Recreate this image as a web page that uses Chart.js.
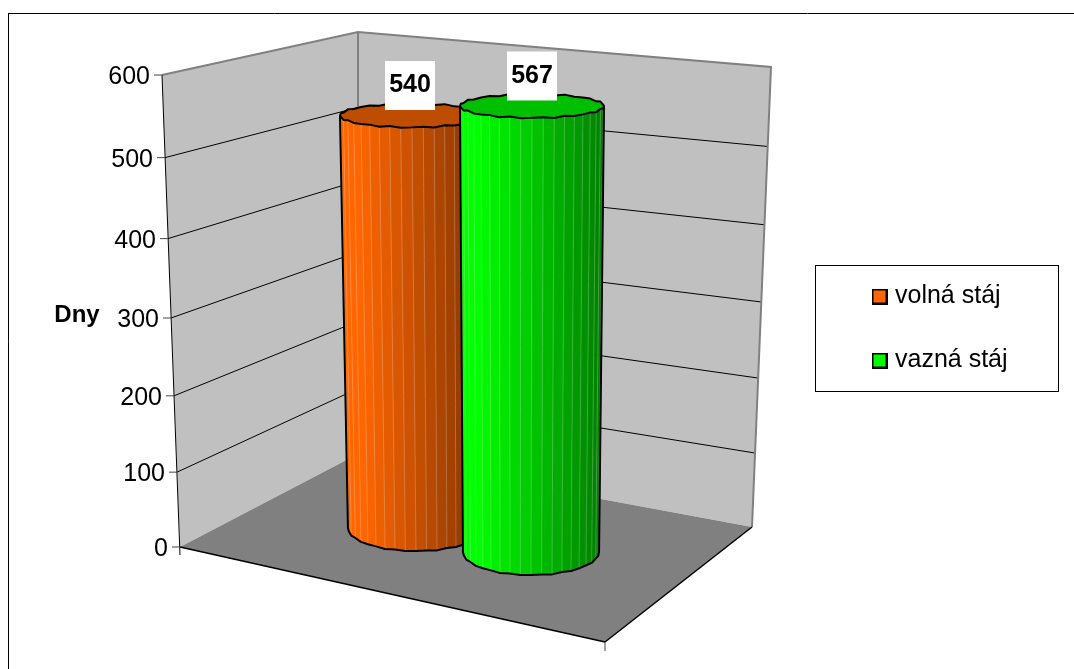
<!DOCTYPE html>
<html>
<head>
<meta charset="utf-8">
<title>Dny</title>
<style>
  html, body { margin: 0; padding: 0; background: #fff; }
  #wrap { width: 1074px; height: 669px; }
</style>
<script src="https://cdn.jsdelivr.net/npm/chart.js@4/dist/chart.umd.min.js"></script>
</head>
<body>
<div id="wrap"><canvas id="chart" width="1074" height="669"></canvas></div>
<script>
const categories = [''];
const seriesNames = ['volná stáj', 'vazná stáj'];
const volnaStaj = [540];
const vaznaStaj = [567];
const seriesColors = ['#ff6600', '#00ff00'];
const tickValues = [0, 100, 200, 300, 400, 500, 600];
const axisTitle = 'Dny';

const FONT = '"Liberation Sans", Arial, sans-serif';
const TEXT_SIZE = 25;

// corners of the box the columns stand in
const BACK_X = 358;
const FLOOR_FRONT = [605, 642];
const AXIS_X0 = 180;
const AXIS_SLANT = 18;   // how far the value axis leans left between 0 and 600
const RIGHT_X0 = 752;
const RIGHT_SLANT = 19;

// Linear scale seen in perspective: at0/at300/at600 are the pixels of those values
class PerspectiveScale extends Chart.LinearScale {
  static id = 'perspective';
  static defaults = Chart.LinearScale.defaults;

  getPixelForValue(value) {
    const { at0, at300, at600 } = this.options;
    const c = (at0 + at600 - 2 * at300) / (at300 - at600);
    const b = at600 * (1 + c) - at0;
    const t = value / 600;
    return (at0 + b * t) / (1 + c * t);
  }

  // tick labels follow the leaning axis
  _computeLabelItems(chartArea) {
    const items = super._computeLabelItems(chartArea);
    items.forEach((item, i) => {
      item.options.translation[0] -= AXIS_SLANT * this.ticks[i].value / 600;
      item.options.translation[1] += 2;
    });
    return items;
  }
}
Chart.register(PerspectiveScale);

function planeScale(at0, at300, at600) {
  return { type: 'perspective', axis: 'y', display: false, min: 0, max: 600, at0, at300, at600 };
}

function axisX(value) {
  return AXIS_X0 - AXIS_SLANT * value / 600;
}

function rightX(value) {
  return RIGHT_X0 + RIGHT_SLANT * value / 600;
}

function polygon(ctx, points) {
  ctx.beginPath();
  points.forEach(([x, y], i) => (i ? ctx.lineTo(x, y) : ctx.moveTo(x, y)));
}

function segment(ctx, x1, y1, x2, y2, color, width) {
  ctx.strokeStyle = color;
  ctx.lineWidth = width;
  ctx.beginPath();
  ctx.moveTo(x1, y1);
  ctx.lineTo(x2, y2);
  ctx.stroke();
}

function drawBox(chart) {
  const { ctx, scales } = chart;
  const front = scales.y;
  const back = scales.yCorner;
  const right = scales.yRight;
  const p = (scale, v) => scale.getPixelForValue(v);

  // chart frame, only the top and left side are ruled
  segment(ctx, 8.5, 669, 8.5, 13.5, '#000', 1);
  segment(ctx, 8, 13.5, 1074, 13.5, '#000', 1);

  // walls and floor
  ctx.fillStyle = '#c0c0c0';
  polygon(ctx, [[axisX(600), p(front, 600)], [BACK_X, p(back, 600)], [BACK_X, p(back, 0)], [axisX(0), p(front, 0)]]);
  ctx.fill();
  polygon(ctx, [[BACK_X, p(back, 600)], [rightX(600), p(right, 600)], [rightX(0), p(right, 0)], [BACK_X, p(back, 0)]]);
  ctx.fill();
  ctx.fillStyle = '#808080';
  polygon(ctx, [[axisX(0), p(front, 0)], [BACK_X, p(back, 0)], [rightX(0), p(right, 0)], FLOOR_FRONT]);
  ctx.fill();

  // gridlines run along both walls
  tickValues.slice(1, -1).forEach(v => {
    segment(ctx, axisX(v), p(front, v), BACK_X, p(back, v), '#000', 1);
    segment(ctx, BACK_X, p(back, v), rightX(v), p(right, v), '#000', 1);
  });

  // wall outline
  ctx.strokeStyle = '#808080';
  ctx.lineWidth = 2;
  polygon(ctx, [[axisX(600), p(front, 600)], [BACK_X, p(back, 600)], [rightX(600), p(right, 600)], [rightX(0), p(right, 0)]]);
  ctx.stroke();
  segment(ctx, BACK_X, p(back, 600), BACK_X, p(back, 0), '#808080', 2);

  // value axis with its tick marks
  segment(ctx, axisX(600), p(front, 600), axisX(0), p(front, 0) + 8, '#000', 1);
  tickValues.forEach(v => {
    segment(ctx, axisX(v) - 8, p(front, v), axisX(v), p(front, v), '#444', 1);
  });

  // front edges of the floor
  segment(ctx, axisX(0), p(front, 0), FLOOR_FRONT[0], FLOOR_FRONT[1], '#000', 1.5);
  segment(ctx, FLOOR_FRONT[0], FLOOR_FRONT[1], rightX(0), p(right, 0), '#000', 1.5);
  segment(ctx, FLOOR_FRONT[0], FLOOR_FRONT[1], FLOOR_FRONT[0], FLOOR_FRONT[1] + 9, '#444', 1);

  // axis title and legend frame
  ctx.fillStyle = '#000';
  ctx.font = `bold ${TEXT_SIZE - 1}px ${FONT}`;
  ctx.textAlign = 'center';
  ctx.textBaseline = 'middle';
  ctx.fillText(axisTitle, 77, 315);

  ctx.strokeStyle = '#000';
  ctx.lineWidth = 1;
  ctx.strokeRect(815.5, 265.5, 243, 126);
}

// facets get darker towards the right side of the column
function shade(rgb, f) {
  const k = f < 0.12 ? 1 : 1 - 0.5 * (f - 0.12) / 0.88;
  return `rgb(${rgb.map(c => Math.round(c * k)).join(',')})`;
}

const FACETS = 20;

function ring(cx, cy, rx, ry, wobble) {
  const points = [];
  for (let i = 0; i <= FACETS; i++) {
    const a = Math.PI - Math.PI * i / FACETS;
    points.push([cx + rx * Math.cos(a), cy + ry * Math.sin(a) + wobble * Math.sin(16 * a)]);
  }
  return points;
}

function drawCylinder(ctx, bar, look) {
  const rx = bar.width / 2;
  const top = ring(bar.x + look.lean, bar.y, rx, rx * 0.165, 0.8);
  const bottom = ring(bar.x - look.lean, bar.base, rx * 0.945, rx * 0.32, 0.5);

  for (let i = 0; i < FACETS; i++) {
    const f = (top[i][0] + top[i + 1][0] - 2 * top[0][0]) / 2 / (2 * rx);
    ctx.fillStyle = shade(look.rgb, f);
    ctx.strokeStyle = ctx.fillStyle;
    ctx.lineWidth = 0.5;
    polygon(ctx, [top[i], top[i + 1], bottom[i + 1], bottom[i]]);
    ctx.closePath();
    ctx.fill();
    ctx.stroke();
    if (i > 0) {
      segment(ctx, top[i][0], top[i][1], bottom[i][0], bottom[i][1], 'rgba(255,255,255,0.22)', 1);
    }
  }

  // lid
  const cx = bar.x + look.lean;
  const lidBack = ring(cx, bar.y, rx, -rx * 0.165, 0.8);
  ctx.fillStyle = `rgb(${look.rgb.map(c => Math.round(c * 0.75)).join(',')})`;
  polygon(ctx, top.concat(lidBack.slice().reverse()));
  ctx.closePath();
  ctx.fill();

  ctx.strokeStyle = '#000';
  ctx.lineWidth = 2;
  ctx.lineJoin = 'round';
  ctx.stroke();
  polygon(ctx, [top[0]].concat(bottom, [top[FACETS]]));
  ctx.stroke();
}

const cylinderLooks = [
  { rgb: [255, 102, 0], lean: -2, labelShift: -4 },
  { rgb: [0, 255, 0], lean: 0.5, labelShift: 0.5 }
];

// legend swatch as a small canvas so the text can sit close to it
function swatch(color) {
  const c = document.createElement('canvas');
  c.width = 16;
  c.height = 16;
  const g = c.getContext('2d');
  g.fillStyle = color;
  g.fillRect(1, 1, 14, 14);
  g.strokeStyle = '#000';
  g.lineWidth = 2;
  g.strokeRect(1, 1, 14, 14);
  return c;
}
const swatches = seriesColors.map(swatch);

const box3d = {
  id: 'box3d',
  afterLayout(chart) {
    // legend sits beside the box, not inside the chart area
    const legend = chart.legend;
    const pad = legend.options.labels.padding;
    const width = legend.right - legend.left;
    const height = legend.bottom - legend.top;
    legend.left = 876.5 - pad;
    legend.right = legend.left + width;
    legend.top = 328.5 - height / 2;
    legend.bottom = legend.top + height;
  },
  beforeDraw: drawBox,
  beforeDatasetDraw() {
    return false;
  },
  afterDatasetsDraw(chart) {
    const { ctx } = chart;
    const bars = chart.data.datasets.map((_, i) => chart.getDatasetMeta(i).data[0]);
    bars.forEach((bar, i) => drawCylinder(ctx, bar, cylinderLooks[i]));

    // value labels on white plates
    ctx.font = `bold ${TEXT_SIZE}px ${FONT}`;
    ctx.textAlign = 'center';
    ctx.textBaseline = 'middle';
    bars.forEach((bar, i) => {
      const x = bar.x + cylinderLooks[i].labelShift;
      ctx.fillStyle = '#fff';
      ctx.fillRect(x - 25, bar.y - 54.5, 50, 49);
      ctx.fillStyle = '#000';
      ctx.fillText(String(chart.data.datasets[i].data[0]), x, bar.y - 30);
    });
  }
};

Chart.defaults.font.family = FONT;
Chart.defaults.color = '#000';

new Chart(document.getElementById('chart'), {
  type: 'bar',
  data: {
    labels: categories,
    datasets: [
      { label: seriesNames[0], data: volnaStaj, yAxisID: 'yOrange', backgroundColor: seriesColors[0], borderColor: '#000', borderWidth: 2 },
      { label: seriesNames[1], data: vaznaStaj, yAxisID: 'yGreen', backgroundColor: seriesColors[1], borderColor: '#000', borderWidth: 2 }
    ]
  },
  options: {
    responsive: false,
    animation: false,
    events: [],
    categoryPercentage: 0.4014,
    barPercentage: 1.2255,
    layout: { padding: { left: 0, top: 75, right: 308.5, bottom: 122 } },
    plugins: {
      tooltip: { enabled: false },
      legend: {
        position: 'chartArea',
        labels: {
          usePointStyle: true,
          pointStyleWidth: 6,
          boxHeight: 15,
          padding: 39,
          font: { size: TEXT_SIZE },
          generateLabels: chart => Chart.defaults.plugins.legend.labels.generateLabels(chart)
            .map((item, i) => ({ ...item, pointStyle: swatches[i] }))
        }
      }
    },
    scales: {
      x: { display: false },
      y: {
        ...planeScale(547, 318, 75),
        display: true,
        position: 'left',
        afterFit: scale => { scale.width = AXIS_X0; },
        afterBuildTicks: scale => { scale.ticks = tickValues.map(value => ({ value })); },
        grid: { display: false, drawTicks: false },
        border: { display: false },
        ticks: { padding: 12, autoSkip: false, font: { size: TEXT_SIZE } }
      },
      yCorner: planeScale(454, 252, 32),
      yRight: planeScale(527, 302, 67),
      yOrange: planeScale(528, 304, 67),
      yGreen: planeScale(552, 322, 78.5)
    }
  },
  plugins: [box3d]
});
</script>
</body>
</html>
